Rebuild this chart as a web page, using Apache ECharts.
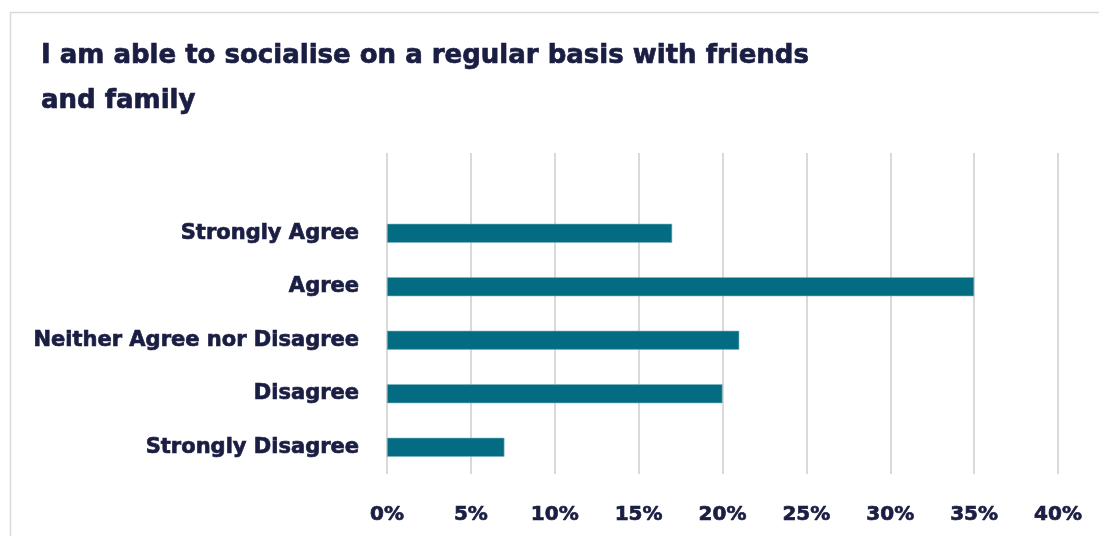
<!DOCTYPE html>
<html>
<head>
<meta charset="utf-8">
<script src="https://cdn.jsdelivr.net/npm/echarts@6/dist/echarts.min.js"></script>
<style>
  html, body { margin: 0; padding: 0; background: #ffffff; }
  #chart { width: 1099px; height: 536px; }
</style>
</head>
<body>
<div id="chart"></div>
<script>
// Survey responses, listed bottom to top as the category axis draws them
const categories = ['Strongly Disagree', 'Disagree', 'Neither Agree nor Disagree', 'Agree', 'Strongly Agree'];
const shares = [7, 20, 21, 35, 17];
const titleLines = ['I am able to socialise on a regular basis with friends', 'and family'];

const ink = '#1b1e43';
const font = '"DejaVu Sans", Inter, sans-serif';
// a thin outline in the text colour gives the heavy display weight
const heavy = { textBorderColor: ink, textBorderWidth: 0.7 };

const chart = echarts.init(document.getElementById('chart'), null, { renderer: 'canvas' });
chart.setOption({
  backgroundColor: '#ffffff',
  animation: false,
  // light card outline around the chart
  graphic: [{
    type: 'rect',
    shape: { x: 10.5, y: 12.5, width: 1200, height: 600 },
    style: { fill: 'none', stroke: '#dadada', lineWidth: 1.5 },
    silent: true
  }],
  title: {
    text: titleLines.join('\n'),
    left: 36,
    top: 29,
    textStyle: Object.assign({
      color: ink,
      fontFamily: font,
      fontWeight: 'bold',
      fontSize: 26,
      lineHeight: 45
    }, heavy)
  },
  grid: { left: 387, right: 41, top: 153, bottom: 62, containLabel: false },
  xAxis: {
    type: 'value',
    min: 0,
    max: 40,
    interval: 5,
    axisLine: { show: false },
    axisTick: { show: false },
    splitLine: { lineStyle: { color: '#d9d9d9', width: 2 } },
    axisLabel: Object.assign({
      formatter: '{value}%',
      color: ink,
      fontFamily: font,
      fontWeight: 'bold',
      fontSize: 20,
      margin: 31
    }, heavy)
  },
  yAxis: {
    type: 'category',
    data: categories,
    max: categories.length,
    axisLine: { show: false },
    axisTick: { show: false },
    axisLabel: Object.assign({
      color: ink,
      fontFamily: font,
      fontWeight: 'bold',
      fontSize: 21,
      margin: 28
    }, heavy)
  },
  series: [{
    type: 'bar',
    data: shares,
    barWidth: 19,
    itemStyle: { color: '#036b82', borderColor: '#7fb5c1', borderWidth: 0.6 }
  }]
});
</script>
</body>
</html>
